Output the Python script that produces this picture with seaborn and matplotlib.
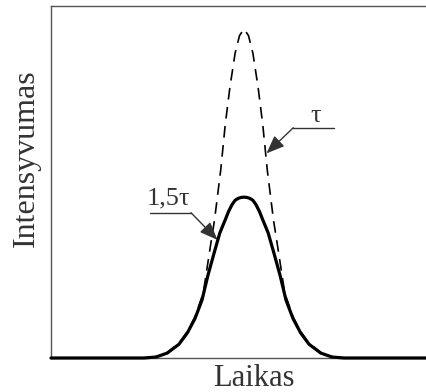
import matplotlib
matplotlib.use("Agg")
import matplotlib.pyplot as plt
import seaborn as sns
import pandas as pd

# Pulse of duration tau (dashed) and the broadened 1.5 tau pulse (solid)
time_tau = [-19.3, -10.0, -8.8, -7.67, -6.5, -5.67, -4.9, -4.07, -3.37, -2.95, -2.33,
            -1.87, -1.4, -0.885, -0.45, 0.0, 0.45, 0.885, 1.4, 1.87, 2.33, 2.95,
            3.37, 4.07, 4.9, 5.67, 6.5, 7.67, 8.8, 10.0, 21.3]
intensity_tau = [0.0, 0.0, 0.004, 0.017, 0.045, 0.08, 0.125, 0.198, 0.338, 0.419, 0.571,
                 0.711, 0.825, 0.927, 0.98, 1.0, 0.98, 0.927, 0.825, 0.711, 0.571, 0.419,
                 0.338, 0.198, 0.125, 0.08, 0.045, 0.017, 0.004, 0.0, 0.0]

time_15tau = [-19.3, -10.0, -8.8, -7.67, -6.5, -5.67, -4.9, -4.2, -3.6, -3.0, -2.42,
              -1.85, -1.55, -1.2, -0.9, -0.6, -0.3, 0.0, 0.3, 0.6, 0.9, 1.2, 1.55,
              1.85, 2.42, 3.0, 3.6, 4.2, 4.9, 5.67, 6.5, 7.67, 8.8, 10.0, 21.3]
intensity_15tau = [0.0, 0.0, 0.003, 0.015, 0.042, 0.076, 0.12, 0.176, 0.252, 0.318, 0.38,
                   0.422, 0.445, 0.466, 0.479, 0.485, 0.488, 0.489, 0.488, 0.485, 0.479,
                   0.466, 0.445, 0.422, 0.38, 0.318, 0.252, 0.176, 0.12, 0.076, 0.042,
                   0.015, 0.003, 0.0, 0.0]

labels = ["τ", "1,5τ"]
x_label = "Laikas"
y_label = "Intensyvumas"

sns.set_style("white")
plt.rcParams["font.family"] = ["Liberation Serif", "DejaVu Serif"]

fig = plt.figure(figsize=(4.27, 3.92), dpi=100)
ax = fig.add_axes([51 / 427, 34 / 392, 406 / 427, 352 / 392])

df_tau = pd.DataFrame({"t": time_tau, "I": intensity_tau})
df_15 = pd.DataFrame({"t": time_15tau, "I": intensity_15tau})

sns.lineplot(data=df_tau, x="t", y="I", ax=ax, color="black", linewidth=1.2,
             linestyle=(0, (7, 4.5)), estimator=None, clip_on=False, zorder=3)
sns.lineplot(data=df_15, x="t", y="I", ax=ax, color="black", linewidth=2.3,
             estimator=None, clip_on=False, zorder=4)

ax.set_xlim(-19.3, 21.3)
ax.set_ylim(0, 1.07)
ax.set_xticks([])
ax.set_yticks([])
ax.set_xlabel("")
ax.set_ylabel("")
for side, sp in ax.spines.items():
    sp.set_color("#555555")
    sp.set_linewidth(1.0)

text_color = "#333333"
fig.text(254 / 427, 6 / 392, x_label, ha="center", va="baseline",
         fontsize=22, color=text_color)
fig.text(34 / 427, 1 - 158 / 392, y_label, rotation=90, rotation_mode="anchor",
         ha="center", va="baseline", fontsize=23, color=text_color)

arrow = dict(arrowstyle="-|>,head_length=0.5,head_width=0.2", color="#333333",
             lw=1.0, shrinkA=0, shrinkB=0, mutation_scale=22)

# tau label: underline, leader and arrow onto the dashed pulse
ax.plot([4.93, 9.03], [0.700, 0.700], color="#333333", lw=1.0, clip_on=False)
ax.annotate("", xy=(2.25, 0.622), xytext=(4.93, 0.700), arrowprops=arrow)
ax.text(7.2, 0.718, labels[0], ha="center", va="baseline", fontsize=19, color=text_color)

# 1.5 tau label: underline, leader and arrow onto the solid pulse
ax.plot([-9.4, -5.3], [0.4416, 0.4416], color="#333333", lw=1.0, clip_on=False)
ax.annotate("", xy=(-2.65, 0.359), xytext=(-5.3, 0.4416), arrowprops=arrow)
ax.text(-9.7, 0.466, labels[1], ha="left", va="baseline", fontsize=19, color=text_color)

fig.savefig("out.png", dpi=100)
